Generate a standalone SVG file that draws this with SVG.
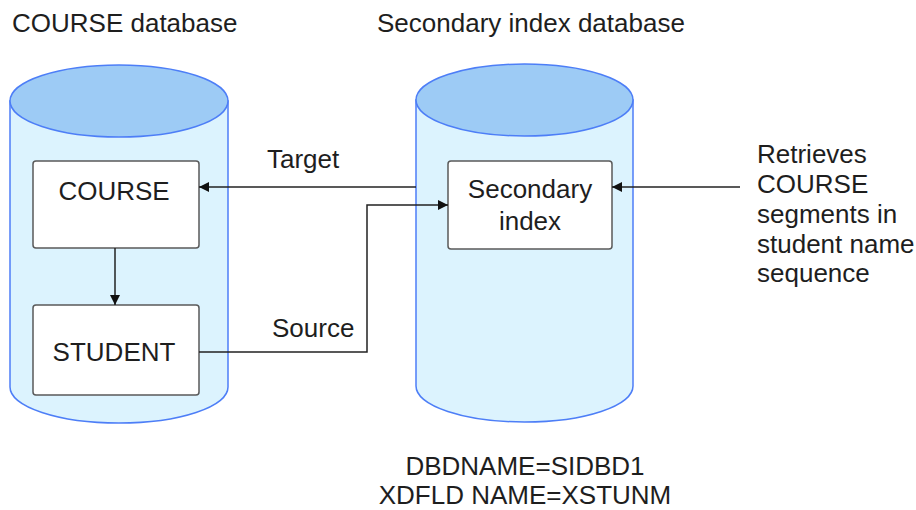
<svg xmlns="http://www.w3.org/2000/svg" width="916" height="510" viewBox="0 0 916 510">
  <defs>
    <style>
      text { font-family: "Liberation Sans", Arial, Helvetica, sans-serif; font-size: 26px; fill: #1e1e1e; }
      .side { fill: #dcf3fe; stroke: #4d7ef7; stroke-width: 1.5; }
      .top { fill: #9dcbf5; stroke: #4d7ef7; stroke-width: 1.5; }
      .box { fill: #ffffff; stroke: #5a5a5a; stroke-width: 1.5; }
      .conn { fill: none; stroke: #222; stroke-width: 1.5; }
      .mid { text-anchor: middle; }
    </style>
    <marker id="arrow" viewBox="0 0 10 10" refX="10" refY="5" markerWidth="10" markerHeight="10" markerUnits="userSpaceOnUse" orient="auto">
      <path d="M0,0 L10,5 L0,10 Z" fill="#111"/>
    </marker>
  </defs>

  <g id="label-course-db"><text x="12" y="32">COURSE database</text></g>
  <g id="label-secondary-db"><text x="377" y="32">Secondary index database</text></g>

  <g id="course-db">
    <path class="side" d="M10,101 L10,387 A109,36 0 0 0 228,387 L228,101 Z"/>
    <ellipse class="top" cx="119" cy="101" rx="109" ry="36"/>
  </g>

  <g id="secondary-db">
    <path class="side" d="M416,100 L416,386 A108.5,36 0 0 0 633,386 L633,100 Z"/>
    <ellipse class="top" cx="524.5" cy="100" rx="108.5" ry="36"/>
  </g>

  <g id="course">
    <rect class="box" x="33" y="161" width="166" height="87" rx="3"/>
    <text class="mid" x="114" y="200">COURSE</text>
  </g>

  <g id="student">
    <rect class="box" x="33" y="305" width="166" height="90" rx="3"/>
    <text class="mid" x="114" y="361">STUDENT</text>
  </g>

  <g id="secondary-index">
    <rect class="box" x="448" y="161" width="164" height="88" rx="3"/>
    <text class="mid" x="530" y="198">Secondary</text>
    <text class="mid" x="530" y="230">index</text>
  </g>

  <g id="connectors">
    <path class="conn" d="M115,248 L115,305" marker-end="url(#arrow)"/>
    <path class="conn" d="M416,187 L199,187" marker-end="url(#arrow)"/>
    <path class="conn" d="M199,352 L367,352 L367,205 L448,205" marker-end="url(#arrow)"/>
    <path class="conn" d="M740,187 L612,187" marker-end="url(#arrow)"/>
    <text x="267" y="168">Target</text>
    <text x="272" y="337">Source</text>
  </g>

  <g id="note-retrieves">
    <text x="757" y="163">Retrieves</text>
    <text x="757" y="193">COURSE</text>
    <text x="757" y="223">segments in</text>
    <text x="757" y="253">student name</text>
    <text x="757" y="282">sequence</text>
  </g>

  <g id="note-dbd">
    <text class="mid" x="525" y="475">DBDNAME=SIDBD1</text>
    <text class="mid" x="525" y="504">XDFLD NAME=XSTUNM</text>
  </g>
</svg>
